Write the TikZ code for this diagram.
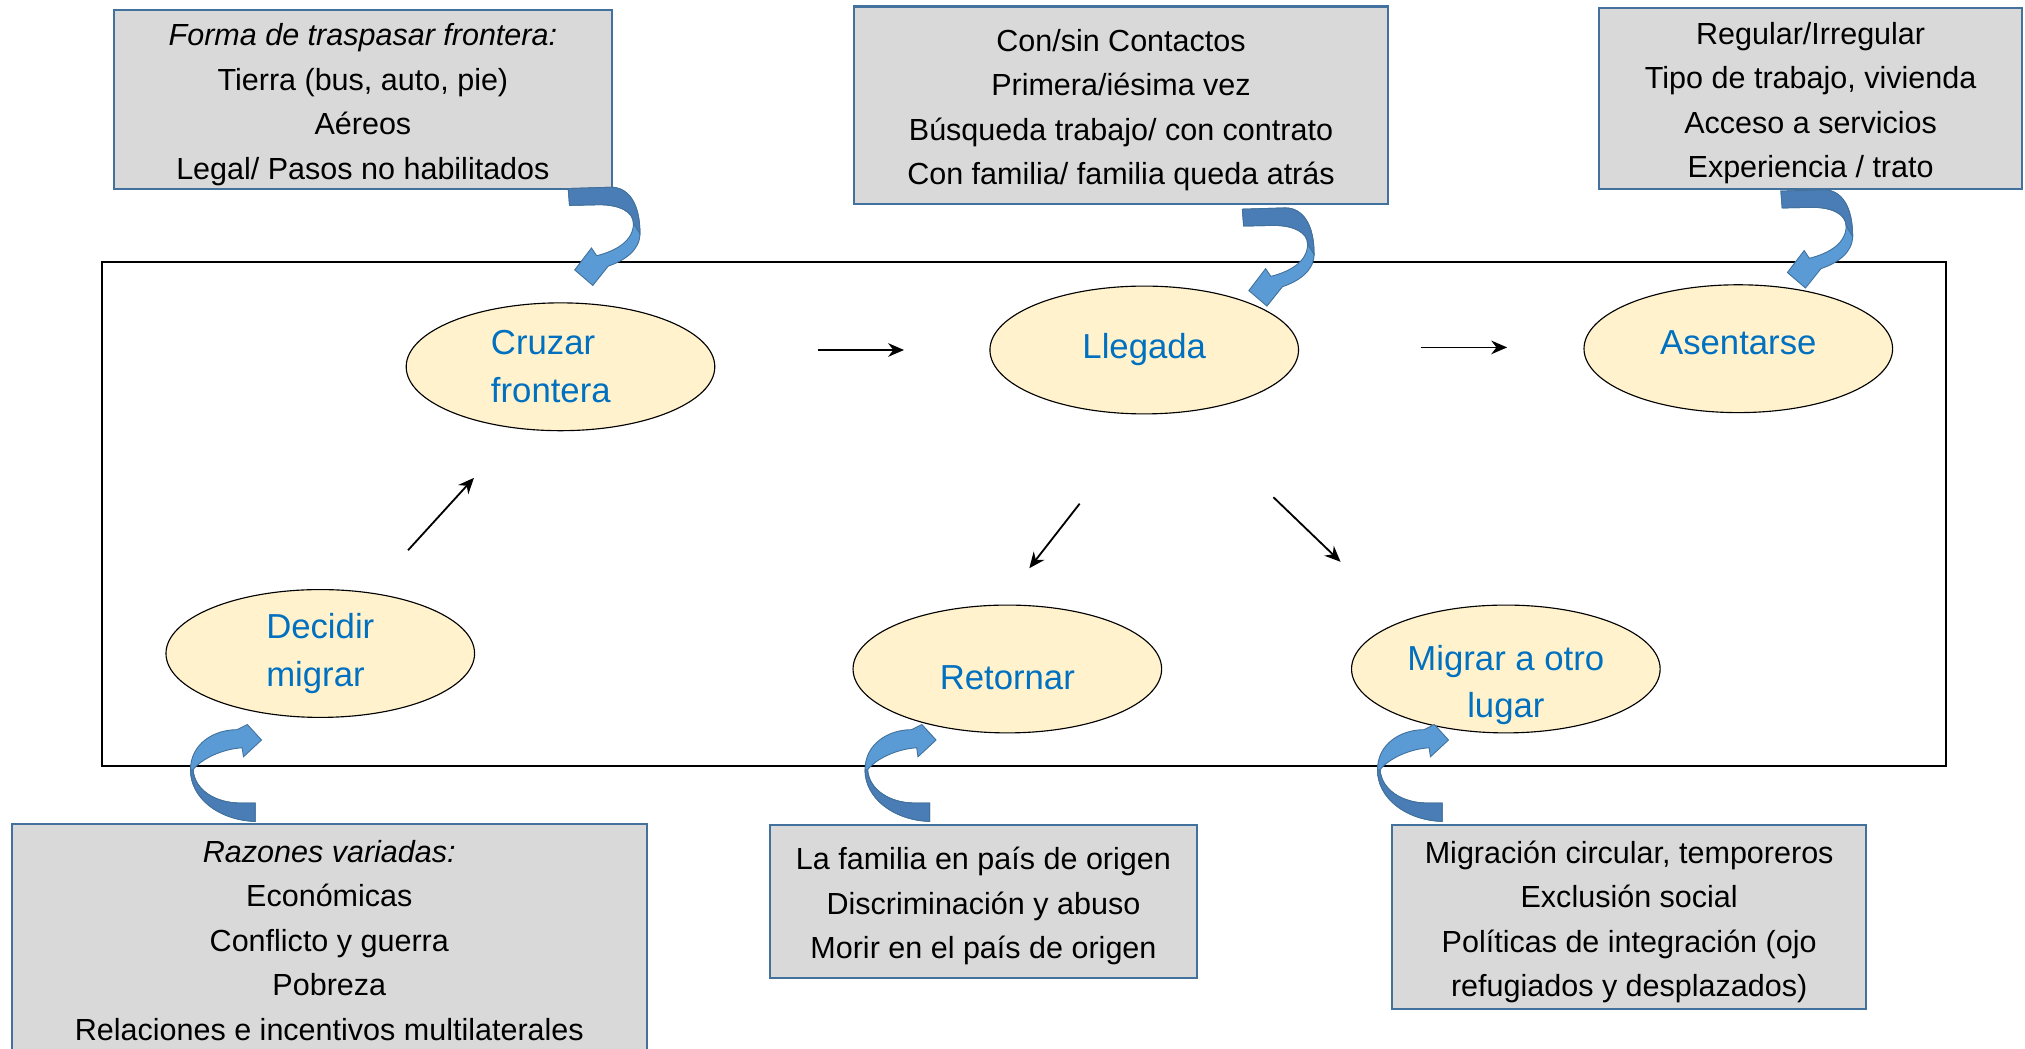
\documentclass[tikz,border=0pt]{standalone}
\usepackage{fontspec}
\setmainfont{Liberation Sans}
\usepackage{tikz}
\usetikzlibrary{shapes.geometric}
\usetikzlibrary{arrows.meta}

\definecolor{fondcase}{HTML}{D9D9D9}
\definecolor{bordcase}{HTML}{41719C}
\definecolor{fondbulle}{HTML}{FFF2CC}
\definecolor{textebulle}{HTML}{0070C0}
\definecolor{flecheclair}{HTML}{5B9BD5}
\definecolor{flechefonce}{HTML}{4A7DB5}

% decale un texte sans changer sa boite
\newcommand{\decale}[2]{\raisebox{#1}[\height][\depth]{#2}}
\newcommand{\hautligne}{\rule{0pt}{0.5cm}}

\tikzset{
    etape/.style={ellipse, draw=black, line width=0.5pt, fill=fondbulle, text=textebulle,
        minimum width=4.78cm, minimum height=1.98cm, inner sep=0pt, align=center,
        font=\fontsize{15.3}{21}\selectfont},
    etapeg/.style={etape, align=left},
    case/.style={rectangle, draw=bordcase, line width=0.9pt, fill=fondcase, inner sep=0pt,
        align=center, font=\fontsize{13.45}{19.6}\selectfont},
    fleche/.style={line width=0.8pt, -{Stealth[length=7pt,width=6pt]}},
    % fleche courbe qui descend d'une case
    pics/courbebas/.style={code={
        \filldraw[fill=flecheclair, draw=bordcase, line width=0.4pt]
            (0,0) -- (33,-1) .. controls (47,-1) and (55.5,12) .. (55.5,35)
            .. controls (55.5,48) and (43,56) .. (31,60) -- (19,75) -- (5,63) -- (18,46) -- (22,52)
            .. controls (38,48) and (50.5,40) .. (50.5,27)
            .. controls (50.5,18) and (40,12.5) .. (24,12.5) -- (1,13) -- cycle;
        \filldraw[fill=flechefonce, draw=bordcase, line width=0.4pt]
            (0,0) -- (33,-1) .. controls (47,-1) and (55.5,12) .. (55.5,35) -- (50.5,27)
            .. controls (50.5,18) and (40,12.5) .. (24,12.5) -- (1,13) -- cycle;
    }},
    % fleche courbe qui monte vers une ellipse
    pics/courbehaut/.style={code={
        \filldraw[fill=flecheclair, draw=bordcase, line width=0.4pt]
            (0,0) .. controls (-28,-1) and (-50,-18) .. (-50,-40)
            .. controls (-50,-60) and (-32,-71) .. (-14,-71) -- (-6,-75) -- (5,-63) -- (-9,-50) -- (-10,-57)
            .. controls (-26,-56) and (-42,-48) .. (-48,-40)
            .. controls (-47,-24) and (-30,-14.2) .. (-12,-14.2) -- (0,-14.2) -- cycle;
        \filldraw[fill=flechefonce, draw=bordcase, line width=0.4pt]
            (0,0) .. controls (-28,-1) and (-50,-18) .. (-50,-40) -- (-48,-40)
            .. controls (-47,-24) and (-30,-14.2) .. (-12,-14.2) -- (0,-14.2) -- cycle;
    }}
}

\begin{document}
\begin{tikzpicture}[x=0.02cm, y=-0.02cm]
    \useasboundingbox (0,0) rectangle (1568,812);
    % Le cadre
    \draw[line width=0.9pt] (79,203) rectangle (1507,593);
    % Les cases grises
    \node[case, minimum width=7.72cm, minimum height=2.76cm] (forma) at (281,77)
        {\hautligne\textit{Forma de traspasar frontera:}\\Tierra (bus, auto, pie)\\Aéreos\\Legal/ Pasos no habilitados};
    \node[case, minimum width=8.28cm, minimum height=3.06cm] (contactos) at (868,81.5)
        {\hautligne Con/sin Contactos\\Primera/iésima vez\\Búsqueda trabajo/ con contrato\\Con familia/ familia queda atrás};
    \node[case, minimum width=6.56cm, minimum height=2.8cm] (regular) at (1402,76)
        {\hautligne Regular/Irregular\\Tipo de trabajo, vivienda\\Acceso a servicios\\Experiencia / trato};
    \node[case, minimum width=9.84cm, minimum height=3.6cm] (razones) at (255,728)
        {\textit{Razones variadas:}\\Económicas\\Conflicto y guerra\\Pobreza\\Relaciones e incentivos multilaterales};
    \node[case, minimum width=6.62cm, minimum height=2.36cm] (familia) at (761.5,698)
        {\hautligne La familia en país de origen\\Discriminación y abuso\\Morir en el país de origen};
    \node[case, minimum width=7.34cm, minimum height=2.84cm] (circular) at (1261.5,710)
        {\hautligne Migración circular, temporeros\\Exclusión social\\Políticas de integración (ojo\\refugiados y desplazados)};
    % Les etapes
    \node[etapeg] (cruzar) at (434,284) {\hspace*{-0.3cm}Cruzar\\\hspace*{-0.3cm}frontera};
    \node[etape] (llegada) at (886,271) {Llegada};
    \node[etape] (asentarse) at (1346,270) {\decale{0.1cm}{Asentarse}};
    \node[etapeg] (decidir) at (248,506) {Decidir\\migrar};
    \node[etape] (retornar) at (780,518) {\decale{-0.14cm}{Retornar}};
    \node[etape] (migrar) at (1166,518) {\decale{-0.25cm}{Migrar a otro}\\\decale{-0.25cm}{lugar}};
    % Les fleches droites
    \coordinate (dm1) at (316,426);
    \coordinate (dm2) at (367,370);
    \coordinate (cl1) at (633,271);
    \coordinate (cl2) at (700,271);
    \coordinate (la1) at (1100,269);
    \coordinate (la2) at (1167,269);
    \coordinate (lr1) at (836,390);
    \coordinate (lr2) at (797,440);
    \coordinate (lm1) at (986,385);
    \coordinate (lm2) at (1038,435);
    \draw[fleche] (dm1) -- (dm2);
    \draw[fleche] (cl1) -- (cl2);
    \draw[fleche] (la1) -- (la2);
    \draw[fleche] (lr1) -- (lr2);
    \draw[fleche] (lm1) -- (lm2);
    % Les fleches courbes
    \pic at (440,146) {courbebas};
    \pic at (962,162) {courbebas};
    \pic at (1379,148) {courbebas};
    \pic at (197.5,636) {courbehaut};
    \pic at (719.8,636) {courbehaut};
    \pic at (1116.6,636) {courbehaut};
\end{tikzpicture}
\end{document}
